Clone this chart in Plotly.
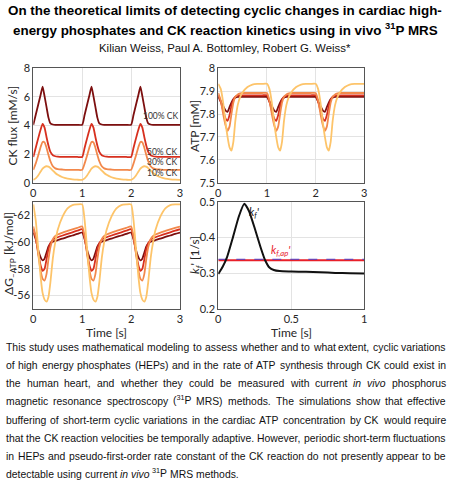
import re
import plotly.graph_objects as go

# ---------------- data ----------------
T = [0.00, 0.05, 0.10, 0.15, 0.19, 0.23, 0.27, 0.31, 0.35, 0.40, 0.45, 0.50, 0.60, 0.70, 0.80, 0.90,
     1.00, 1.05, 1.10, 1.15, 1.19, 1.23, 1.27, 1.31, 1.35, 1.40, 1.45, 1.50, 1.60, 1.70, 1.80, 1.90,
     2.00, 2.05, 2.10, 2.15, 2.19, 2.23, 2.27, 2.31, 2.35, 2.40, 2.45, 2.50, 2.60, 2.70, 2.80, 2.90,
     3.00]

CK_100 = [4.05, 4.75, 5.45, 6.15, 6.72, 6.05, 5.30, 4.55, 4.15, 4.07, 4.05, 4.05, 4.05, 4.05, 4.05, 4.05,
          4.05, 4.75, 5.45, 6.15, 6.72, 6.05, 5.30, 4.55, 4.15, 4.07, 4.05, 4.05, 4.05, 4.05, 4.05, 4.05,
          4.05, 4.75, 5.45, 6.15, 6.72, 6.05, 5.30, 4.55, 4.15, 4.07, 4.05, 4.05, 4.05, 4.05, 4.05, 4.05,
          4.05]
CK_50 = [1.80, 2.45, 3.10, 3.72, 4.12, 3.85, 3.20, 2.60, 2.15, 1.92, 1.85, 1.82, 1.80, 1.80, 1.80, 1.80,
         1.80, 2.45, 3.10, 3.72, 4.12, 3.85, 3.20, 2.60, 2.15, 1.92, 1.85, 1.82, 1.80, 1.80, 1.80, 1.80,
         1.80, 2.45, 3.10, 3.72, 4.12, 3.85, 3.20, 2.60, 2.15, 1.92, 1.85, 1.82, 1.80, 1.80, 1.80, 1.80,
         1.80]
CK_30 = [0.90, 1.35, 1.90, 2.50, 2.85, 2.82, 2.45, 1.95, 1.50, 1.15, 1.00, 0.95, 0.92, 0.90, 0.90, 0.90,
         0.90, 1.35, 1.90, 2.50, 2.85, 2.82, 2.45, 1.95, 1.50, 1.15, 1.00, 0.95, 0.92, 0.90, 0.90, 0.90,
         0.90, 1.35, 1.90, 2.50, 2.85, 2.82, 2.45, 1.95, 1.50, 1.15, 1.00, 0.95, 0.92, 0.90, 0.90, 0.90,
         0.90]
CK_10 = [0.20, 0.30, 0.50, 0.78, 0.98, 1.10, 1.15, 1.12, 1.02, 0.85, 0.68, 0.55, 0.38, 0.29, 0.24, 0.21,
         0.20, 0.30, 0.50, 0.78, 0.98, 1.10, 1.15, 1.12, 1.02, 0.85, 0.68, 0.55, 0.38, 0.29, 0.24, 0.21,
         0.20, 0.30, 0.50, 0.78, 0.98, 1.10, 1.15, 1.12, 1.02, 0.85, 0.68, 0.55, 0.38, 0.29, 0.24, 0.21,
         0.20]

ATP_100 = [7.875, 7.855, 7.835, 7.815, 7.810, 7.830, 7.850, 7.865, 7.872, 7.875, 7.875, 7.875, 7.875, 7.875, 7.875, 7.875,
           7.875, 7.855, 7.835, 7.815, 7.810, 7.830, 7.850, 7.865, 7.872, 7.875, 7.875, 7.875, 7.875, 7.875, 7.875, 7.875,
           7.875, 7.855, 7.835, 7.815, 7.810, 7.830, 7.850, 7.865, 7.872, 7.875, 7.875, 7.875, 7.875, 7.875, 7.875, 7.875,
           7.875]
ATP_50 = [7.882, 7.855, 7.815, 7.780, 7.770, 7.795, 7.835, 7.862, 7.876, 7.881, 7.882, 7.882, 7.882, 7.882, 7.882, 7.882,
          7.882, 7.855, 7.815, 7.780, 7.770, 7.795, 7.835, 7.862, 7.876, 7.881, 7.882, 7.882, 7.882, 7.882, 7.882, 7.882,
          7.882, 7.855, 7.815, 7.780, 7.770, 7.795, 7.835, 7.862, 7.876, 7.881, 7.882, 7.882, 7.882, 7.882, 7.882, 7.882,
          7.882]
ATP_30 = [7.892, 7.860, 7.800, 7.750, 7.727, 7.745, 7.800, 7.850, 7.875, 7.886, 7.890, 7.892, 7.892, 7.892, 7.892, 7.892,
          7.892, 7.860, 7.800, 7.750, 7.727, 7.745, 7.800, 7.850, 7.875, 7.886, 7.890, 7.892, 7.892, 7.892, 7.892, 7.892,
          7.892, 7.860, 7.800, 7.750, 7.727, 7.745, 7.800, 7.850, 7.875, 7.886, 7.890, 7.892, 7.892, 7.892, 7.892, 7.892,
          7.892]
ATP_10 = [7.932, 7.910, 7.850, 7.760, 7.700, 7.655, 7.640, 7.680, 7.770, 7.840, 7.875, 7.895, 7.918, 7.929, 7.932, 7.932,
          7.932, 7.910, 7.850, 7.760, 7.700, 7.655, 7.640, 7.680, 7.770, 7.840, 7.875, 7.895, 7.918, 7.929, 7.932, 7.932,
          7.932, 7.910, 7.850, 7.760, 7.700, 7.655, 7.640, 7.680, 7.770, 7.840, 7.875, 7.895, 7.918, 7.929, 7.932, 7.932,
          7.932]

DG_100 = [-60.70, -60.20, -59.40, -58.85, -58.62, -58.75, -59.20, -59.65, -59.90, -60.02, -60.08, -60.13, -60.25, -60.37, -60.48, -60.60,
          -60.70, -60.20, -59.40, -58.85, -58.62, -58.75, -59.20, -59.65, -59.90, -60.02, -60.08, -60.13, -60.25, -60.37, -60.48, -60.60,
          -60.70, -60.20, -59.40, -58.85, -58.62, -58.75, -59.20, -59.65, -59.90, -60.02, -60.08, -60.13, -60.25, -60.37, -60.48, -60.60,
          -60.70]
DG_50 = [-60.95, -60.30, -59.20, -58.25, -57.85, -58.00, -58.70, -59.45, -59.90, -60.15, -60.27, -60.35, -60.48, -60.60, -60.72, -60.84,
         -60.95, -60.30, -59.20, -58.25, -57.85, -58.00, -58.70, -59.45, -59.90, -60.15, -60.27, -60.35, -60.48, -60.60, -60.72, -60.84,
         -60.95, -60.30, -59.20, -58.25, -57.85, -58.00, -58.70, -59.45, -59.90, -60.15, -60.27, -60.35, -60.48, -60.60, -60.72, -60.84,
         -60.95]
DG_30 = [-61.15, -60.40, -59.10, -57.85, -57.25, -57.12, -57.60, -58.70, -59.60, -60.20, -60.45, -60.55, -60.70, -60.82, -60.94, -61.05,
         -61.15, -60.40, -59.10, -57.85, -57.25, -57.12, -57.60, -58.70, -59.60, -60.20, -60.45, -60.55, -60.70, -60.82, -60.94, -61.05,
         -61.15, -60.40, -59.10, -57.85, -57.25, -57.12, -57.60, -58.70, -59.60, -60.20, -60.45, -60.55, -60.70, -60.82, -60.94, -61.05,
         -61.15]
DG_10 = [-62.80, -61.60, -59.50, -57.40, -56.20, -55.70, -55.55, -55.90, -57.00, -58.80, -60.00, -60.90, -61.90, -62.50, -62.75, -62.80,
         -62.80, -61.60, -59.50, -57.40, -56.20, -55.70, -55.55, -55.90, -57.00, -58.80, -60.00, -60.90, -61.90, -62.50, -62.75, -62.80,
         -62.80, -61.60, -59.50, -57.40, -56.20, -55.70, -55.55, -55.90, -57.00, -58.80, -60.00, -60.90, -61.90, -62.50, -62.75, -62.80,
         -62.80]

T_KF = [0.00, 0.03, 0.06, 0.10, 0.14, 0.178, 0.21, 0.25, 0.29, 0.32, 0.35, 0.38, 0.42, 0.50, 0.60, 0.70, 0.80, 0.90, 1.00]
KF = [0.298, 0.318, 0.345, 0.400, 0.458, 0.494, 0.474, 0.425, 0.372, 0.337, 0.316, 0.309, 0.306, 0.305, 0.304, 0.303, 0.301, 0.300, 0.299]
T_AP = [0.0, 1.0]
KF_AP = [0.336, 0.336]
KF_AP_MEAN = [0.339, 0.339]

SERIES_NAMES = ["100% CK", "50% CK", "30% CK", "10% CK"]
SERIES_LABEL_Y = [4.66, 2.17, 1.43, 0.66]

TITLE_LINES = ["On the theoretical limits of detecting cyclic changes in cardiac high-",
               "energy phosphates and CK reaction kinetics using in vivo <sup>31</sup>P MRS"]
AUTHORS = "Kilian Weiss, Paul A. Bottomley, Robert G. Weiss*"
PARAGRAPH = [
    "This study uses mathematical modeling to assess whether and to what extent, cyclic variations",
    "of high energy phosphates (HEPs) and in the rate of ATP synthesis through CK could exist in",
    "the human heart, and whether they could be measured with current <i>in</i> <i>vivo</i> phosphorus",
    "magnetic resonance spectroscopy (<sup>31</sup>P MRS) methods. The simulations show that effective",
    "buffering of short-term cyclic variations in the cardiac ATP concentration by CK would require",
    "that the CK reaction velocities be temporally adaptive. However, periodic short-term fluctuations",
    "in HEPs and pseudo-first-order rate constant of the CK reaction do not presently appear to be",
    "detectable using current <i>in</i> <i>vivo</i> <sup>31</sup>P MRS methods.",
]

# ---------------- styling ----------------
W, H = 450, 482
COLORS = ["#7d0f0f", "#d7301f", "#f2884b", "#fdc46a"]
AX_FONT = dict(family="Lato, Open Sans, sans-serif", size=11, color="#262626")
LBL_FONT = dict(family="Lato, Open Sans, sans-serif", size=12, color="#262626")
TXT_FAMILY = "Liberation Sans, Arial, sans-serif"


def px(x):
    return x / W


def py(y):
    return 1 - y / H


fig = go.Figure()

for ys, c in zip([CK_100, CK_50, CK_30, CK_10], COLORS):
    fig.add_trace(go.Scatter(x=T, y=ys, mode="lines", line=dict(color=c, width=1.8, shape="spline", smoothing=0.5),
                             xaxis="x", yaxis="y", showlegend=False))
for ys, c in zip([ATP_100, ATP_50, ATP_30, ATP_10], COLORS):
    fig.add_trace(go.Scatter(x=T, y=ys, mode="lines", line=dict(color=c, width=1.8, shape="spline", smoothing=0.5),
                             xaxis="x2", yaxis="y2", showlegend=False))
for ys, c in zip([DG_100, DG_50, DG_30, DG_10], COLORS):
    fig.add_trace(go.Scatter(x=T, y=ys, mode="lines", line=dict(color=c, width=1.8, shape="spline", smoothing=0.5),
                             xaxis="x3", yaxis="y3", showlegend=False))

fig.add_trace(go.Scatter(x=T_AP, y=KF_AP, mode="lines", line=dict(color="#e8202a", width=2),
                         xaxis="x4", yaxis="y4", showlegend=False))
fig.add_trace(go.Scatter(x=T_AP, y=KF_AP_MEAN, mode="lines", line=dict(color="#4b3fc9", width=1, dash="dash"),
                         xaxis="x4", yaxis="y4", showlegend=False))
fig.add_trace(go.Scatter(x=T_KF, y=KF, mode="lines", line=dict(color="#111111", width=2, shape="spline", smoothing=0.5),
                         xaxis="x4", yaxis="y4", showlegend=False))

XL = [px(33.3), px(180)]
XR = [px(218.3), px(364.3)]
YT = [py(182.7), py(68.3)]
YB = [py(309), py(201.7)]

common = dict(showline=True, mirror=True, linecolor="#555555", linewidth=1, showgrid=True,
              gridcolor="#e3e3e3", gridwidth=1, zeroline=False, ticks="", tickfont=AX_FONT, automargin=False)

fig.update_layout(
    width=W, height=H, margin=dict(l=0, r=0, t=0, b=0, autoexpand=False),
    paper_bgcolor="white", plot_bgcolor="white",
    xaxis=dict(domain=XL, range=[0, 3], tickvals=[0, 1, 2, 3], anchor="y", **common),
    yaxis=dict(domain=YT, range=[0, 8], tickvals=[0, 2, 4, 6, 8], anchor="x", **common),
    xaxis2=dict(domain=XR, range=[0, 3], tickvals=[0, 1, 2, 3], anchor="y2", **common),
    yaxis2=dict(domain=YT, range=[7.5, 8], tickvals=[7.5, 7.6, 7.7, 7.8, 7.9, 8.0],
                ticktext=["7.5", "7.6", "7.7", "7.8", "7.9", "8"], anchor="x2", **common),
    xaxis3=dict(domain=XL, range=[0, 3], tickvals=[0, 1, 2, 3], anchor="y3", **common),
    yaxis3=dict(domain=YB, range=[-55, -63], tickvals=[-62, -60, -58, -56],
                ticktext=["-62", "-60", "-58", "-56"], anchor="x3", **common),
    xaxis4=dict(domain=XR, range=[0, 1], tickvals=[0, 0.5, 1], ticktext=["0", "0.5", "1"], anchor="y4", **common),
    yaxis4=dict(domain=YB, range=[0.2, 0.5], tickvals=[0.2, 0.3, 0.4, 0.5], anchor="x4", **common),
)

ann = []


def add(**kw):
    kw.setdefault("showarrow", False)
    kw.setdefault("xanchor", "center")
    kw.setdefault("yanchor", "middle")
    ann.append(kw)


# series labels
for name, yv in zip(SERIES_NAMES, SERIES_LABEL_Y):
    add(x=3.0, y=yv, xref="x", yref="y", text=name, xanchor="right",
        font=dict(family="Lato, sans-serif", size=8.5, color="#333333"))
# kf labels
add(x=0.245, y=0.471, xref="x4", yref="y4", text="<i>k<sub>f</sub>'</i>",
    font=dict(family="Lato, sans-serif", size=11, color="#111111"))
add(x=0.43, y=0.363, xref="x4", yref="y4", text="<i>k<sub>f,ap</sub>'</i>",
    font=dict(family="Lato, sans-serif", size=11, color="#e8202a"))
# axis titles
add(x=px(12), y=py(125.5), xref="paper", yref="paper", text="CK flux [mM/s]", textangle=-90, font=LBL_FONT)
add(x=px(195), y=py(126), xref="paper", yref="paper", text="ATP [mM]", textangle=-90, font=LBL_FONT)
add(x=px(9), y=py(254), xref="paper", yref="paper", text="ΔG<sub>–ATP</sub> [kJ/mol]", textangle=-90,
    font=LBL_FONT)
add(x=px(195), y=py(255), xref="paper", yref="paper", text="<i>k<sub>f</sub></i>' [1/s]", textangle=-90,
    font=LBL_FONT)
add(x=px(106.7), y=py(332), xref="paper", yref="paper", text="Time [s]", font=LBL_FONT)
add(x=px(291.3), y=py(332), xref="paper", yref="paper", text="Time [s]", font=LBL_FONT)

# title and authors
for i, line in enumerate(TITLE_LINES):
    add(x=0.5, y=py([10.0, 29.5][i]), xref="paper", yref="paper", text="<b>" + line + "</b>",
        font=dict(family=TXT_FAMILY, size=13.4, color="#000000"))
add(x=0.5, y=py(48), xref="paper", yref="paper", text=AUTHORS,
    font=dict(family=TXT_FAMILY, size=11.4, color="#111111"))

# justified paragraph, word by word (Arial / Liberation Sans advance widths)
AW = {' ': 278, '!': 278, '(': 333, ')': 333, ',': 278, '-': 333, '.': 278, '*': 389, '/': 278,
      'A': 667, 'B': 667, 'C': 722, 'D': 722, 'E': 667, 'F': 611, 'G': 778, 'H': 722, 'I': 278, 'J': 500,
      'K': 667, 'L': 556, 'M': 833, 'N': 722, 'O': 778, 'P': 667, 'Q': 778, 'R': 722, 'S': 667, 'T': 611,
      'U': 722, 'V': 667, 'W': 944, 'X': 667, 'Y': 667, 'Z': 611,
      'a': 556, 'b': 556, 'c': 500, 'd': 556, 'e': 556, 'f': 278, 'g': 556, 'h': 556, 'i': 222, 'j': 222,
      'k': 500, 'l': 222, 'm': 833, 'n': 556, 'o': 556, 'p': 556, 'q': 556, 'r': 333, 's': 500, 't': 278,
      'u': 556, 'v': 500, 'w': 722, 'x': 500, 'y': 500, 'z': 500}


def word_width(html, size):
    w = 0.0
    for m in re.finditer(r'<sup>(.*?)</sup>|<[^>]+>|([^<]+)', html):
        if m.group(1) is not None:
            w += sum(AW.get(ch, 556) for ch in m.group(1)) * 0.7
        elif m.group(2):
            w += sum(AW.get(ch, 556) for ch in m.group(2))
    return w / 1000.0 * size


PSIZE = 10.4
LEFT, RIGHT = 5.0, 445.0
for i, line in enumerate(PARAGRAPH):
    yc = 347.5 + 18.15 * i
    words = line.split(" ")
    widths = [word_width(wd, PSIZE) for wd in words]
    if i < len(PARAGRAPH) - 1:
        gap = (RIGHT - LEFT - sum(widths)) / (len(words) - 1)
    else:
        gap = 278 / 1000.0 * PSIZE
    xcur = LEFT
    for wd, ww in zip(words, widths):
        ysh = 2.5 if "<sup>" in wd else 0
        add(x=px(xcur), y=py(yc), xref="paper", yref="paper", text=wd,
            xanchor="left", yshift=ysh, borderpad=0,
            font=dict(family=TXT_FAMILY, size=PSIZE, color="#111111"))
        xcur += ww + gap

fig.update_layout(annotations=ann)
fig.write_html("out.html", config={"displayModeBar": False},
               post_script="document.body.style.margin='0';document.body.style.padding='0';")
